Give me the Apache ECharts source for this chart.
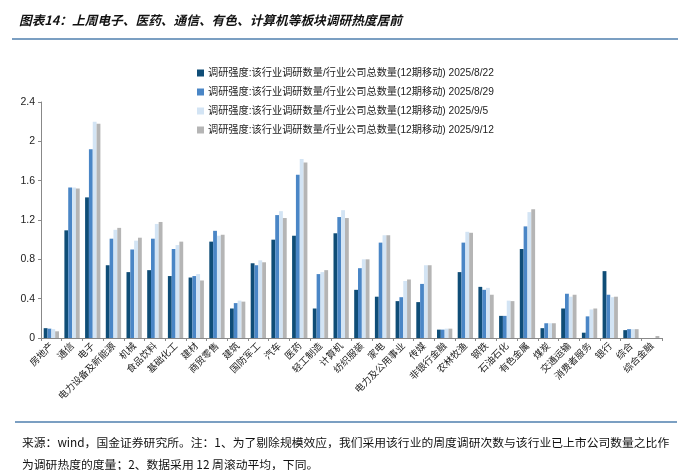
<!DOCTYPE html>
<html>
<head>
<meta charset="utf-8">
<script src="https://cdn.jsdelivr.net/npm/echarts@6/dist/echarts.min.js"></script>
<style>
html,body{margin:0;padding:0;background:#fff;}
#c{width:690px;height:470px;}
</style>
</head>
<body>
<div id="c"></div>
<script>
const categories = ['房地产','通信','电子','电力设备及新能源','机械','食品饮料','基础化工','建材','商贸零售','建筑','国防军工','汽车','医药','轻工制造','计算机','纺织服装','家电','电力及公用事业','传媒','非银行金融','农林牧渔','钢铁','石油石化','有色金属','煤炭','交通运输','消费者服务','银行','综合','综合金融'];
const seriesNames = [
  '调研强度:该行业调研数量/行业公司总数量(12期移动) 2025/8/22',
  '调研强度:该行业调研数量/行业公司总数量(12期移动) 2025/8/29',
  '调研强度:该行业调研数量/行业公司总数量(12期移动) 2025/9/5',
  '调研强度:该行业调研数量/行业公司总数量(12期移动) 2025/9/12'
];
const v0822 = [0.10,1.095,1.43,0.74,0.67,0.69,0.63,0.615,0.98,0.30,0.76,1.00,1.04,0.30,1.065,0.49,0.42,0.375,0.365,0.085,0.67,0.52,0.225,0.905,0.10,0.30,0.054,0.68,0.08,0];
const v0829 = [0.095,1.53,1.92,1.01,0.90,1.01,0.905,0.63,1.09,0.355,0.74,1.25,1.66,0.65,1.23,0.71,0.97,0.415,0.55,0.085,0.97,0.49,0.225,1.135,0.15,0.45,0.22,0.44,0.09,0];
const v0905 = [0.09,1.53,2.20,1.10,0.99,1.16,0.945,0.65,1.04,0.38,0.79,1.29,1.82,0.67,1.30,0.80,1.045,0.58,0.74,0.095,1.08,0.51,0.38,1.28,0.15,0.42,0.29,0.415,0.09,0];
const v0912 = [0.068,1.52,2.18,1.12,1.02,1.18,0.98,0.585,1.05,0.37,0.77,1.22,1.785,0.69,1.22,0.80,1.045,0.595,0.74,0.095,1.07,0.44,0.375,1.31,0.15,0.44,0.30,0.42,0.09,0.02];
const yTicks = [0,0.4,0.8,1.2,1.6,2,2.4];
const colors = ['#0f4d77','#4a86c6','#d3e4f4','#b5b5b5'];
const titleText = '图表14：上周电子、医药、通信、有色、计算机等板块调研热度居前';
const noteLine1 = '来源：wind，国金证券研究所。注：1、为了剔除规模效应，我们采用该行业的周度调研次数与该行业已上市公司数量之比作';
const noteLine2 = '为调研热度的度量；2、数据采用 12 周滚动平均，下同。';

const cjk = '"Noto Sans CJK SC", sans-serif';
const mixed = '"Liberation Sans", "Noto Sans CJK SC", sans-serif';
const allVals = [v0822, v0829, v0905, v0912];

const chart = echarts.init(document.getElementById('c'));
chart.setOption({
  animation: false,
  backgroundColor: '#fff',
  title: [
    {text: titleText, left: 14, top: 9, textStyle: {fontFamily: cjk, fontSize: 12.7, fontWeight: 'bold', fontStyle: 'italic', color: '#111'}},
    {text: noteLine1, left: 17, top: 432, textStyle: {fontFamily: cjk, fontSize: 11.8, fontWeight: 'normal', color: '#111'}},
    {text: noteLine2, left: 17, top: 454, textStyle: {fontFamily: cjk, fontSize: 11.8, fontWeight: 'normal', color: '#111'}}
  ],
  graphic: [
    {type: 'line', shape: {x1: 12, y1: 39, x2: 678, y2: 39}, style: {stroke: '#4f7fae', lineWidth: 1.5}},
    {type: 'line', shape: {x1: 15, y1: 422, x2: 677, y2: 422}, style: {stroke: '#4f7fae', lineWidth: 1.5}}
  ],
  legend: {
    orient: 'vertical',
    left: 192,
    top: 62,
    itemWidth: 7,
    itemHeight: 7,
    itemGap: 7,
    icon: 'rect',
    textStyle: {fontFamily: mixed, fontSize: 10.2, lineHeight: 12, color: '#222', padding: [0,0,0,-1]},
    data: seriesNames
  },
  grid: {left: 41, right: 28, top: 102, bottom: 132, containLabel: false},
  xAxis: {
    type: 'category',
    data: categories,
    axisLine: {lineStyle: {color: '#888', width: 1}},
    axisTick: {show: true, length: 3, lineStyle: {color: '#888'}},
    axisLabel: {rotate: 45, interval: 0, fontFamily: cjk, fontSize: 9.5, color: '#222', margin: 6}
  },
  yAxis: {
    type: 'value',
    min: yTicks[0],
    max: yTicks[yTicks.length - 1],
    interval: 0.4,
    splitLine: {show: false},
    axisLine: {show: true, lineStyle: {color: '#888'}},
    axisTick: {show: true, length: 3, lineStyle: {color: '#888'}},
    axisLabel: {fontFamily: '"Liberation Sans", sans-serif', fontSize: 10.5, color: '#222', margin: 6}
  },
  series: seriesNames.map((n, i) => ({
    name: n,
    type: 'bar',
    data: allVals[i],
    barGap: '0%',
    barCategoryGap: '26%',
    itemStyle: {color: colors[i]}
  }))
});
</script>
</body>
</html>
